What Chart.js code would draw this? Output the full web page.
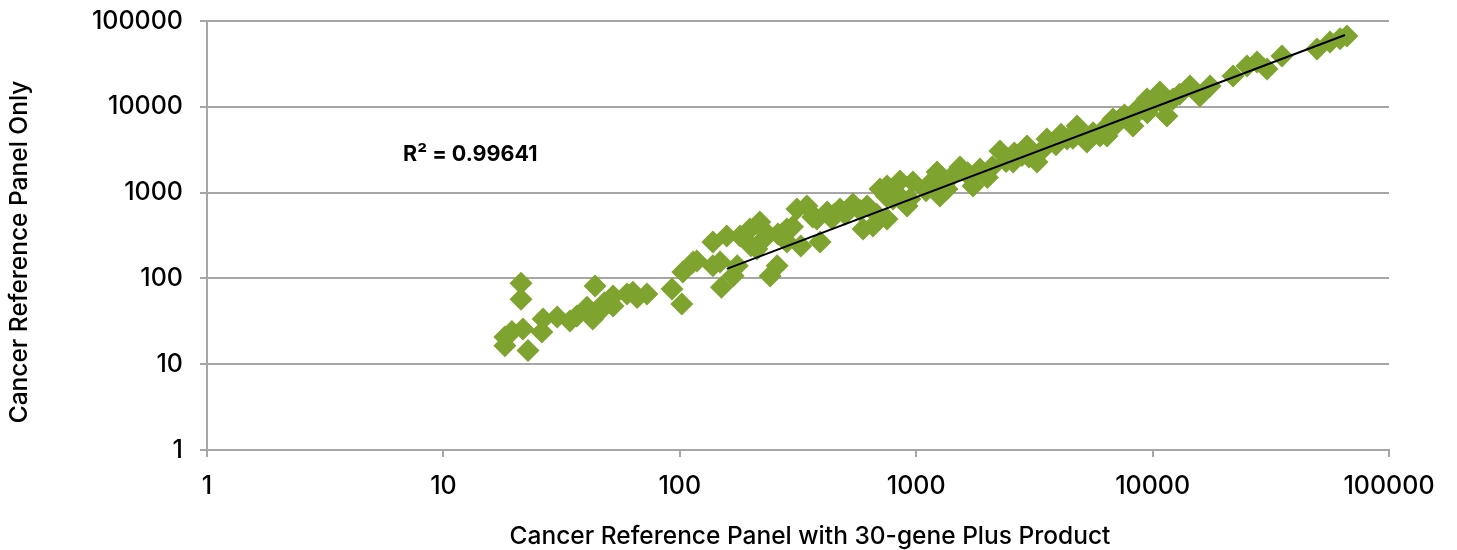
<!DOCTYPE html>
<html>
<head>
<meta charset="utf-8">
<script src="https://cdn.jsdelivr.net/npm/chart.js@4.4.1/dist/chart.umd.min.js"></script>
<style>
  html, body { margin: 0; padding: 0; background: #fff; }
  #wrap { width: 1457px; height: 550px; position: relative; }
</style>
</head>
<body>
<div id="wrap"><canvas id="scatterChart"></canvas></div>
<script>
// x: Cancer Reference Panel with 30-gene Plus Product, y: Cancer Reference Panel Only
var withProduct = [
  18.2, 18.2, 21.3, 21.3, 22.8, 21.7, 19.5, 26.4, 26.1, 30.3, 34.3, 36.7, 40.5, 43.8, 42.8, 46, 48,
  52.2, 59.8, 52.2, 63.3, 66, 72.6, 92.7, 102, 103, 114, 118, 138, 148, 150, 168,
  158, 138, 180, 175, 198, 200, 218, 212, 230, 241, 258, 270, 284, 284, 313, 345, 325, 365,
  392, 380, 420, 450, 476, 540, 596, 620, 656, 680, 703, 753, 753, 798, 854, 915, 940, 969,
  1100, 1225, 1260, 1300, 1400, 1532, 1650, 1739, 1862, 2000, 2100, 2261, 2570, 2800, 2943,
  3000, 3244, 3574, 3900, 4100, 4345, 4790, 5275, 5600, 5990, 6412, 6412, 6800, 7000, 7280,
  7600, 8260, 8500, 9000, 9470, 10000, 10740, 11000, 11500, 12200, 13000, 14390, 15850,
  17500, 21900, 25060, 27640, 30480, 35250, 49590, 56300, 62100, 66400,
  230, 260, 300, 440, 500, 580, 750, 820, 1150, 1350, 1700, 2400, 2600, 3400, 4600, 5000, 8000, 9500
];
var panelOnly = [
  20.7, 16.4, 88, 57, 14.4, 25.7, 24, 33.6, 23.7, 35.5, 31.8, 36.4, 46, 81.5, 33.6, 41.7, 52,
  62.4, 65.7, 47.7, 69, 60, 65.7, 75, 50.3, 119, 155, 160, 265, 155, 79, 107,
  312, 140, 312, 140, 377, 240, 454, 220, 300, 107, 140, 330, 265, 377, 644, 698, 239, 520,
  265, 492, 594, 560, 644, 736, 377, 700, 408, 560, 1100, 492, 1194, 842, 1365, 698, 842, 1330,
  1050, 1738, 913, 1200, 1500, 1987, 1700, 1194, 1880, 1500, 2000, 3054, 2275, 2700, 3490,
  2600, 2275, 4217, 3600, 4800, 4217, 5975, 3890, 5000, 4572, 4572, 5975, 7210, 6200, 7210,
  8000, 5975, 9000, 9500, 12330, 10500, 14870, 11000, 7820, 12330, 14000, 17470, 13370,
  17470, 22850, 29900, 33270, 27570, 39100, 47200, 56900, 61900, 66870,
  350, 330, 400, 500, 560, 620, 900, 1000, 1300, 1100, 1500, 2300, 2900, 3100, 4300, 4600, 7000, 8500
];
// power trendline end points
var trendX = [158, 65200];
var trendY = [129, 68700];
var axisTicks = [1, 10, 100, 1000, 10000, 100000];
var rSquared = 'R\u00b2 = 0.99641';

var FONT = "Inter, 'Open Sans', sans-serif";
var GREY = '#a6a6a6';

function toPoints(xs, ys) {
  return xs.map(function (x, i) { return { x: x, y: ys[i] }; });
}

var extraText = {
  id: 'extraText',
  afterDraw: function (chart) {
    var ctx = chart.ctx;
    var xs = chart.scales.x, ys = chart.scales.y;
    ctx.save();
    ctx.fillStyle = '#000';
    ctx.textAlign = 'center';
    ctx.textBaseline = 'middle';
    ctx.font = "500 24.5px " + FONT;
    ctx.fillText('Cancer Reference Panel with 30-gene Plus Product', 810, 537);
    ctx.save();
    ctx.translate(20, 252);
    ctx.rotate(-Math.PI / 2);
    ctx.fillText('Cancer Reference Panel Only', 0, 0);
    ctx.restore();
    ctx.font = "bold 21.5px " + FONT;
    ctx.textAlign = 'left';
    ctx.fillText(rSquared, xs.getPixelForValue(6.75), ys.getPixelForValue(2810));
    ctx.restore();
  }
};

var ctx = document.getElementById('scatterChart').getContext('2d');
var chart = new Chart(ctx, {
  type: 'scatter',
  data: {
    datasets: [
      {
        label: 'Trend',
        data: toPoints(trendX, trendY),
        showLine: true,
        borderColor: '#000',
        borderWidth: 2,
        pointRadius: 0
      },
      {
        label: 'Samples',
        data: toPoints(withProduct, panelOnly),
        pointStyle: 'rectRot',
        pointRadius: 11.5,
        pointHoverRadius: 11.5,
        backgroundColor: '#7fa32f',
        borderWidth: 0
      }
    ]
  },
  options: {
    responsive: true,
    maintainAspectRatio: false,
    animation: false,
    layout: { padding: { top: 21, right: 68, left: 0, bottom: 0 } },
    plugins: { legend: { display: false }, tooltip: { enabled: false } },
    scales: {
      x: {
        type: 'logarithmic',
        min: 1,
        max: 100000,
        afterBuildTicks: function (s) { s.ticks = axisTicks.map(function (v) { return { value: v }; }); },
        afterFit: function (s) { s.height = 100; s.paddingLeft = 0; s.paddingRight = 0; },
        ticks: {
          color: '#000',
          font: { family: FONT, size: 25, weight: 500 },
          padding: 14,
          maxRotation: 0,
          autoSkip: false,
          callback: function (v) { return String(v); }
        },
        grid: { drawOnChartArea: false, color: GREY, lineWidth: 2, tickLength: 7 },
        border: { color: GREY, width: 2 }
      },
      y: {
        type: 'logarithmic',
        min: 1,
        max: 100000,
        afterBuildTicks: function (s) { s.ticks = axisTicks.map(function (v) { return { value: v }; }); },
        afterFit: function (s) { s.width = 207; s.paddingTop = 0; s.paddingBottom = 0; },
        ticks: {
          color: '#000',
          font: { family: FONT, size: 25, weight: 500 },
          padding: 17,
          autoSkip: false,
          callback: function (v) { return String(v); }
        },
        grid: { color: GREY, lineWidth: 2, tickLength: 7 },
        border: { color: GREY, width: 2 }
      }
    }
  },
  plugins: [extraText]
});
</script>
</body>
</html>
